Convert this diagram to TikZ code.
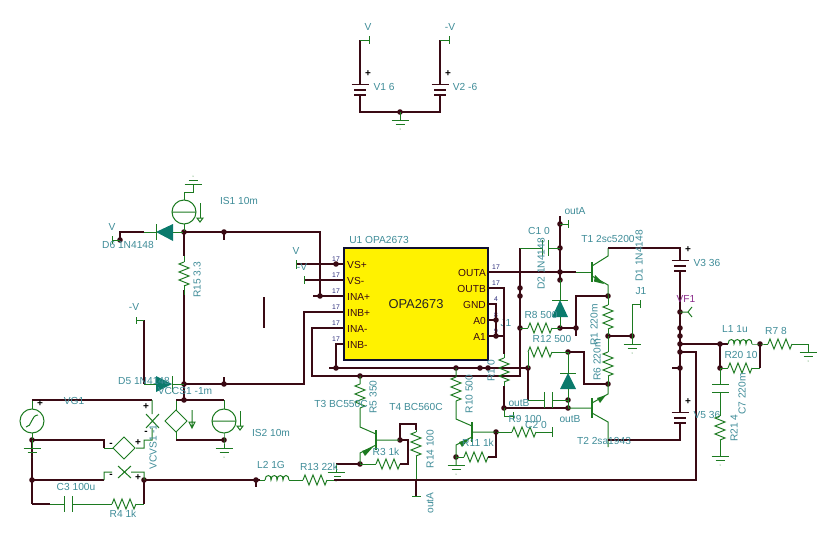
\documentclass[tikz,border=0pt]{standalone}
\usepackage{fontspec}
\setmainfont{Liberation Sans}
\definecolor{wire}{HTML}{3A0A14}
\definecolor{grn}{HTML}{1C7A20}
\definecolor{teal1}{HTML}{3F8C98}
\definecolor{dio}{HTML}{0A7A6C}
\definecolor{pinblue}{HTML}{2A2A7A}
\definecolor{purp}{HTML}{8A2A8A}
\definecolor{icedge}{HTML}{101030}
\tikzset{
 w/.style={draw=wire,line width=1.1pt},
 g/.style={draw=grn,line width=1pt},
 tb/.style={draw=grn,line width=2pt},
 jn/.style={circle,fill=wire,inner sep=0pt,minimum size=5.6pt},
 lbl/.style={text=teal1,font=\fontsize{10.2}{11}\selectfont,inner sep=0pt},
 vl/.style={lbl,rotate=90},
 pinl/.style={text=wire,font=\fontsize{10.2}{11}\selectfont,inner sep=0pt},
 pinn/.style={text=pinblue,font=\fontsize{6.8}{7}\selectfont,inner sep=0pt},
 plus/.style={text=black,font=\bfseries\fontsize{10}{10}\selectfont,inner sep=0pt},
 pics/resh/.style={code={\draw[g] (0,0)--(2,-5)--(6,5)--(10,-5)--(14,5)--(18,-5)--(22,5)--(24,0);}},
 pics/resv/.style={code={\draw[g] (0,0)--(-5,2)--(5,6)--(-5,10)--(5,14)--(-5,18)--(5,22)--(0,24);}},
 pics/coil/.style={code={\draw[g] (0,0) .. controls (0,-6) and (7,-6) .. (6,0) .. controls (6,-6) and (13,-6) .. (12,0) .. controls (12,-6) and (19,-6) .. (18,0) .. controls (18,-6) and (24,-6) .. (24,0);}},
 pics/gnd/.style={code={\draw[g] (-8.5,0)--(8.5,0) (-4.5,4.5)--(4.5,4.5);\fill[grn] (0,9) circle (0.5pt);}},
 pics/batt/.style={code={\draw[wire,line width=1pt] (-8.5,0)--(8.5,0);\draw[wire,line width=2pt] (-6,5.5)--(6,5.5);\draw[wire,line width=2pt] (-6,10.5)--(6,10.5);}},
 pics/isrc/.style={code={\draw[g] (0,0) circle (12pt) (-12,0)--(12,0);}},
 pics/arrd/.style={code={\draw[g] (0,-9)--(0,6);\draw[g] (-3,6)--(3,6)--(0,10)--cycle;}},
}
\newcommand{\lab}[4]{\node[lbl] (#1) at (#2,#3) {#4};}
\newcommand{\vlab}[4]{\node[vl] (#1) at (#2,#3) {#4};}
\newcommand{\pn}[4]{\node[pinn] (#1) at (#2,#3) {#4};}
\begin{document}
\begin{tikzpicture}[x=1pt,y=-1pt]
\useasboundingbox (0,0) rectangle (836,541);
% junctions
\foreach \a/\b in {400/112,184/232,224/232,120/240,320/296,336/264,336/368,496/320,496/336,520/288,520/296,520/328,560/224,560/248,560/272,560/280,560/328,576/328,608/296,608/336,632/336,528/368,568/352,608/384,568/400,568/408,504/408,496/432,456/457,360/376,456/368,480/368,488/368,360/464,400/440,256/480,144/480,32/480,32/440,184/384,224/384,184/400,224/440,680/312,680/328,680/336,680/344,680/352,680/368,720/344,760/344,720/368}
 {\node[jn] (J\a-\b) at (\a,\b) {};}
\foreach \n/\a/\b in {tV1/369/40,tV2/449/40,tD6/112/240,tV3/296/264,tV4/304/280,tD5/136/320,tOA/568/224,tJ1/640/304,tOB/513/416,tOC/552/432,tOD/416/496}
 {\coordinate (\n) at (\a,\b);}
% --- supply batteries
\draw[w] (360,40)--(360,84) (360,95)--(360,112)--(J400-112.center)--(440,112)--(440,95) (440,84)--(440,40);
\draw[g] (360,40)--(tV1) (369,36)--(369,44) (440,40)--(tV2) (449,36)--(449,44);
\pic at (360,84) {batt}; \pic at (440,84) {batt};
\draw[g] (J400-112.center)--(400,120); \pic at (400,120) {gnd};
\node[plus] (p1) at (368,74) {+}; \node[plus] (p2) at (448,74) {+};
\lab{lV}{368}{27}{V} \lab{lmV}{450}{27}{-V} \lab{lV1}{384}{87}{V1 6} \lab{lV2}{465}{87}{V2 -6}
% --- IS1 / D6 / R15
\draw[g] (193,184)--(193,192)--(184,192)--(184,200) (184,224)--(J184-232.center);
\draw[g] (184.5,184)--(201.5,184) (188.5,180)--(197.5,180); \fill[grn] (193,176) circle (0.5pt);
\pic at (184,212) {isrc}; \pic at (200,212) {arrd};
\draw[g] (J184-232.center)--(173,232) (156,232)--(144,232);
\fill[dio] (156,232)--(173,224)--(173,241)--cycle; \draw[g] (156,224)--(156,240);
\draw[w] (144,232)--(120,232)--(J120-240.center) (J184-232.center)--(320,232)--(J320-296.center);
\draw[w] (J224-232.center)--(224,240);
\draw[g] (J120-240.center)--(tD6) (112,236)--(112,244);
\draw[w] (J184-232.center)--(184,256) (184,290)--(J184-384.center)--(J184-400.center);
\draw[g] (184,256)--(184,262) (184,285)--(184,295); \pic at (184,262) {resv};
\draw[w] (264,297)--(264,328);
\lab{lD6}{128}{245}{D6 1N4148} \lab{lVa}{112}{227}{V} \lab{lIS1}{239}{201}{IS1 10m} \vlab{lR15}{197}{280}{R15 3.3}
% --- IC input wiring
\draw[w] (tV3)--(344,264) (tV4)--(344,280) (313,296)--(344,296);
\draw[g] (296,260)--(296,269) (304,276)--(304,284);
\draw[w] (344,312)--(304,312)--(304,384)--(J224-384.center)--(J184-384.center);
\draw[w] (224,377)--(J224-384.center);
\draw[w] (344,328)--(312,328)--(312,376)--(520,376)--(520,248);
\draw[w] (344,344)--(336,344)--(J336-368.center);
\draw[w] (329,368)--(528,368);
\lab{lVb}{296}{251}{V} \lab{lmVb}{302}{267}{-V}
% --- IC
\draw[fill=yellow,draw=icedge,line width=1.8pt] (344,248) rectangle (488,360);
\node[font=\fontsize{12.9}{13}\selectfont,text=black!85,inner sep=0pt] (icn) at (416,304) {OPA2673};
\lab{lU1}{379}{240}{U1 OPA2673}
\foreach \n/\y/\t in {a/265/VS+,b/281/VS-,c/297/INA+,d/313/INB+,e/329/INA-,f/345/INB-}
 {\node[pinl,anchor=west] (pl\n) at (347,\y) {\t}; \node[pinn] (pn\n) at (336,\y-6) {17};}
\foreach \n/\y/\t in {g/273/OUTA,h/289/OUTB,i/305/GND,j/321/A0,k/337/A1}
 {\node[pinl,anchor=east] (pl\n) at (486,\y) {\t};}
\pn{n1}{496}{267}{17} \pn{n2}{496}{283}{17} \pn{n3}{496}{299}{4} \pn{n4}{496}{315}{8} \pn{n5}{496}{331}{9}
\lab{lJ1a}{506}{323}{J1}
% --- IC outputs
\draw[w] (488,272)--(576,272); \draw[g] (576,272)--(592,272);
\draw[w] (488,288)--(504,288)--(504,354) (504,386)--(J504-408.center)--(J568-408.center);
\draw[g] (504,354)--(504,358) (504,382)--(504,386); \pic at (504,358) {resv};
\draw[w] (488,304)--(496,304)--(J496-336.center) (488,320)--(J496-320.center) (488,336)--(504,336);
\vlab{lR1o}{491}{371}{R1 0}
% --- T1 region
\draw[w] (560,216)--(J560-280.center);
\draw[g] (J560-224.center)--(tOA) (568,220)--(568,228);
\draw[g] (520,248)--(542,248) (548,248)--(J560-248.center) (542,240)--(542,256) (548,240)--(548,256);
\draw[g] (J560-280.center)--(560,300) (552,300)--(568,300);
\fill[dio] (560,300)--(552,317)--(568,317)--cycle;
\draw[g] (560,317)--(J560-328.center);
\draw[g] (J520-328.center)--(528,328) (552,328)--(J560-328.center); \pic at (528,328) {resh};
\draw[w] (J560-328.center)--(J576-328.center)--(576,336) (J576-328.center)--(576,296)--(J608-296.center);
\draw[tb] (592,262)--(592,282);
\draw[g] (592,266)--(608,256)--(608,248) (592,276)--(608,285)--(J608-296.center);
\fill[grn] (604,284)--(595,275)--(594,281.5)--cycle;
\draw[w] (608,248)--(680,248)--(680,260);
\draw[g] (J608-296.center)--(608,305) (608,329)--(J608-336.center); \pic at (608,305) {resv};
\draw[w] (J608-336.center)--(J632-336.center);
\draw[g] (J632-336.center)--(632,304)--(tJ1) (640,300)--(640,308) (J632-336.center)--(632,344);
\pic at (632,344) {gnd};
\lab{lout}{575}{211}{outA} \lab{lC1}{539}{231}{C1 0} \vlab{lD2}{541}{264}{D2 1N4148} \lab{lT1}{608}{239}{T1 2sc5200}
\vlab{lD1}{639}{256}{D1 1N4148} \lab{lJ1}{641}{291}{J1} \lab{lR8}{541}{315}{R8 500} \vlab{lR1}{594}{325}{R1 220m}
% --- T2 region
\draw[g] (J608-336.center)--(608,352) (608,376)--(J608-384.center); \pic at (608,352) {resv};
\draw[w] (J608-384.center)--(584,384)--(584,352)--(J568-352.center);
\draw[g] (J568-352.center)--(552,352) (528,352)--(J528-368.center); \pic at (528,352) {resh};
\draw[w] (J528-368.center)--(528,400); \draw[g] (528,400)--(544,400) (544,392)--(544,408) (552,392)--(552,408) (552,400)--(J568-400.center)--(J568-408.center);
\draw[g] (J568-352.center)--(568,373) (560,373)--(576,373); \fill[dio] (568,373)--(560,389)--(576,389)--cycle; \draw[g] (568,389)--(J568-400.center);
\draw[tb] (592,398)--(592,418);
\draw[g] (J568-408.center)--(592,408) (592,403)--(608,394)--(J608-384.center) (592,413)--(608,422)--(608,447);
\fill[grn] (606,395)--(597,398)--(600,403)--cycle;
\draw[w] (608,440)--(680,440)--(680,423);
\draw[g] (J504-408.center)--(504,416)--(tOB) (513,412)--(513,420);
\draw[g] (J496-432.center)--(512,432) (536,432)--(tOC) (552,427)--(552,437); \pic at (512,432) {resh};
\lab{lR12}{552}{339}{R12 500} \vlab{lR6}{597}{360}{R6 220m} \lab{lob1}{519}{403}{outB} \lab{lR9}{525}{419}{R9 100} \lab{lob2}{570}{419}{outB} \lab{lC2}{536}{425}{C2 0} \lab{lT2}{604}{441}{T2 2sa1943}
% --- T3
\draw[tb] (376,430)--(376,450);
\draw[g] (J360-376.center)--(360,384) (360,408)--(360,427)--(376,434) (376,440)--(J400-440.center) (376,445)--(360,453)--(J360-464.center); \pic at (360,384) {resv};
\fill[grn] (373,447)--(362,451)--(365,456)--cycle;
\draw[w] (J360-464.center)--(336,464); \draw[g] (336,464)--(336,472); \pic at (336,472) {gnd};
\draw[g] (J360-464.center)--(376,464); \pic at (376,464) {resh};
\draw[w] (400,464)--(408,464)--(408,440)--(J400-440.center)--(400,424)--(416,424)--(416,430);
\draw[g] (416,430)--(416,432) (416,456)--(416,480); \pic at (416,432) {resv};
\draw[w] (416,480)--(416,496); \draw[g] (412,496)--(421,496);
\vlab{lR5}{373}{397}{R5 350} \lab{lT3}{341}{404}{T3 BC550C} \lab{lT4}{416}{407}{T4 BC560C} \lab{lR3}{386}{452}{R3 1k} \vlab{lR14}{430}{449}{R14 100} \vlab{lOA}{430}{503}{outA}
% --- T4
\draw[tb] (472,422)--(472,442);
\draw[g] (J456-368.center)--(456,377) (456,401)--(456,419)--(472,426) (472,432)--(J496-432.center) (472,437)--(456,445)--(J456-457.center)--(456,465); \pic at (456,377) {resv};
\fill[grn] (469,439)--(459,442)--(462,447)--cycle;
\pic at (456,465) {gnd};
\draw[g] (J456-457.center)--(464,457); \pic at (464,457) {resh};
\draw[w] (488,457)--(496,457)--(J496-432.center);
\vlab{lR10}{469}{394}{R10 500} \lab{lR11}{478}{443}{R11 1k}
% --- bottom bus
\draw[w] (J144-480.center)--(696,480)--(696,352)--(J680-352.center);
\draw[w] (J256-480.center)--(256,487);
\fill[white] (260,474) rectangle (334,485);
\draw[g] (260,480)--(265,480) (289,480)--(303,480) (327,480)--(334,480); \pic at (265,480) {coil}; \pic at (303,480) {resh};
\lab{lL2}{271}{465}{L2 1G} \lab{lR13}{319}{467}{R13 22k}
% --- input section
\draw[w] (144,384)--(144,320); \draw[g] (tD5)--(144,320) (136,317)--(136,324);
\draw[g] (144,384)--(156,384) (172,384)--(J184-384.center) (172,376)--(172,392);
\fill[dio] (172,384)--(156,376)--(156,392)--cycle;
\lab{lmVc}{134}{307}{-V} \lab{lD5}{144}{381}{D5 1N4148} \lab{lVCCS}{185}{391}{VCCS1 -1m}
\draw[g] (32,409)--(32,400); \draw[w] (32,400)--(152,400); \draw[g] (152,400)--(152,414) (146,414)--(159,428) (159,414)--(146,428) (152,428)--(152,440)--(144,440)--(144,448)--(136,448);
\draw[g] (32,421) circle (12pt) (26,427) .. controls (32,427) and (31,415) .. (38,415);
\draw[g] (32,433)--(J32-440.center);
\draw[w] (J32-440.center)--(104,440)--(104,448); \draw[g] (104,448)--(113,448);
\draw[g] (113,448)--(124,437)--(135,448)--(124,459)--cycle;
\draw[w] (J32-440.center)--(J32-480.center)--(32,504);
\draw[g] (32,440)--(32,448); \pic at (32,448) {gnd};
\draw[w] (J32-480.center)--(104,480); \draw[g] (104,480)--(104,472)--(112,472) (118,466)--(131,478) (131,466)--(118,478) (131,472)--(144,472)--(J144-480.center);
\draw[w] (32,504)--(50,504); \draw[g] (50,504)--(64,504) (64,496)--(64,512) (72,496)--(72,512) (72,504)--(90,504) (90,504)--(112,504); \pic at (112,504) {resh};
\draw[g] (136,504)--(144,504); \draw[w] (144,504)--(J144-480.center);
\node[plus] (p3) at (40,404) {+}; \node[plus] (p4) at (146,407) {+}; \node[plus] (p5) at (138,443) {+}; \node[plus] (p6) at (138,478) {+};
\node[plus] (m1) at (111,445) {-}; \node[plus] (m2) at (111,476) {-}; \node[plus] (m3) at (146,433) {-};
\lab{lVG}{74}{401}{VG1} \lab{lC3}{76}{487}{C3 100u} \lab{lR4}{123}{514}{R4 1k} \vlab{lVC}{153}{447}{VCVS1 -1}
% VCCS + IS2
\draw[g] (176,410)--(176,400); \draw[w] (176,400)--(J184-400.center)--(224,400); \draw[g] (224,400)--(224,409);
\draw[g] (176,410)--(187,421)--(176,432)--(165,421)--cycle;
\draw[g] (176,432)--(176,440); \draw[w] (176,440)--(J224-440.center);
\pic at (224,421) {isrc}; \draw[g] (224,433)--(J224-440.center)--(224,448); \pic at (224,448) {gnd};
\draw[g] (192,410)--(192,428) (189,422)--(192,428)--(195,422)--cycle; \pic at (240,420) {arrd};
\lab{lIS2}{271}{433}{IS2 10m}
% --- right section
\pic at (680,260) {batt}; \pic at (680,412) {batt};
\draw[w] (680,271)--(J680-312.center)--(J680-368.center)--(680,412);
\draw[w] (672,368)--(J680-368.center);
\draw[g] (J680-312.center)--(688,312) (692,307)--(688,312)--(692,317);
\node[plus] (p7) at (688,250) {+}; \node[plus] (p8) at (688,402) {+};
\node[lbl,text=purp] (lVF) at (686,299) {VF1};
\lab{lV3}{707}{263}{V3 36} \lab{lV5}{707}{415}{V5 36}
\draw[w] (J680-344.center)--(J720-344.center)--(728,344);
\pic at (728,344) {coil}; \draw[g] (752,344)--(J760-344.center)--(768,344); \pic at (768,344) {resh};
\draw[g] (792,344)--(808,344)--(808,352); \pic at (808,352) {gnd};
\draw[w] (J720-344.center)--(J720-368.center);
\draw[g] (J720-368.center)--(728,368) (752,368)--(760,368); \pic at (728,368) {resh};
\draw[w] (760,368)--(J760-344.center);
\draw[g] (J720-368.center)--(720,384) (712,384)--(729,384) (712,392)--(729,392) (720,392)--(720,416) (720,440)--(720,456); \pic at (720,416) {resv}; \pic at (720,456) {gnd};
\lab{lL1}{735}{329}{L1 1u} \lab{lR7}{776}{331}{R7 8} \lab{lR20}{741}{355}{R20 10} \vlab{lC7}{742}{394}{C7 220m} \vlab{lR21}{734}{428}{R21 4}
\end{tikzpicture}
\end{document}
